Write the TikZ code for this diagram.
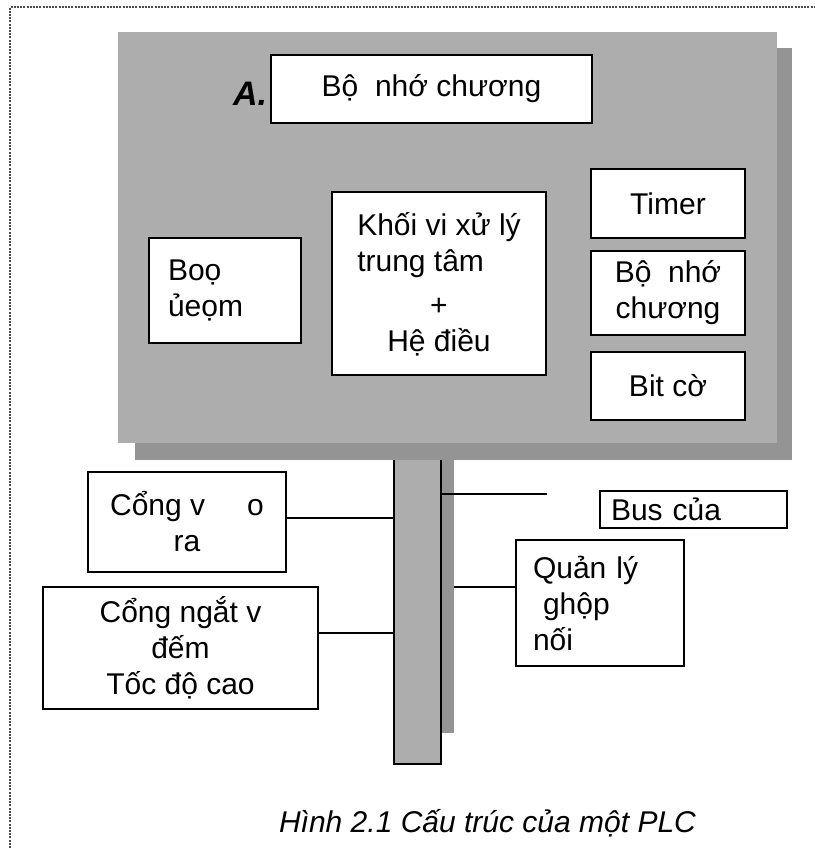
\documentclass[tikz,border=0pt]{standalone}
\usepackage{fontspec}
\setmainfont{Liberation Sans}
\usepackage{tikz}
\usetikzlibrary{positioning, calc}

\begin{document}
\begin{tikzpicture}[x=0.5pt, y=-0.5pt,
    font=\fontsize{15}{18}\selectfont,
    box/.style={draw, fill=white, line width=1pt, inner sep=0pt},
    wire/.style={line width=0.8pt}]
        \useasboundingbox (0,0) rectangle (815,848);
        \draw[black!70, line width=0.6pt, dash pattern=on 1pt off 0.6pt] (10,848) -- (10,7) -- (815,7);

        % bus bar below the panel
        \node[fill=black!42, minimum width=23.5pt, minimum height=144pt, inner sep=0pt] (busshade) at (430.5,589) {};
        \node[fill=black!32, minimum width=23.5pt, minimum height=167pt, inner sep=0pt] (bus) at (417.5,597) {};
        \draw[line width=1pt] (bus.north west) -- (bus.south west) -- (bus.south east) -- (bus.north east);

        % grey panel with its shadow
        \fill[black!42] (135,48) rectangle (792,460);
        \fill[black!32] (118,32) rectangle (777,443);

        \node[box, minimum width=160.5pt, minimum height=34pt] (memtop) at (431.5,89) {Bộ\ \ nhớ chương};
        \node[font=\fontsize{17}{20}\selectfont\bfseries\itshape] (lbla) at (250,94) {A.};

        \node[box, minimum width=76pt, minimum height=52.5pt, inner xsep=9.5pt, text width=57pt, align=left] (buffer) at (225,290.5) {Boọ\\ủeọm};

        \node[box, minimum width=107pt, minimum height=91.5pt, align=center] (cpu) at (439,283.5)
          {\begin{tabular}{@{}l@{}}Khối vi xử lý\\trung tâm\end{tabular}\\[7pt] +\\Hệ điều};

        \foreach \nm/\cy/\h/\txt in {timer/203.5/34.5/Timer, memright/293/42/{Bộ\ \ nhớ\\chương}, bitco/386/34/Bit cờ} {
          \node[box, minimum width=77pt, minimum height=\h pt, align=center] (\nm) at (668,\cy) {\txt};
        }

        \node[box, minimum width=99pt, minimum height=50pt, align=center] (congvao) at (187,522) {Cổng v\hspace{1.4em}o\\ra};
        \node[box, minimum width=137.5pt, minimum height=61pt, align=center] (congngat) at (180.5,648) {Cổng ngắt v\ \\đếm\\Tốc độ cao};
        \node[box, minimum width=93.5pt, minimum height=18.5pt, inner xsep=5.5pt, text width=82.5pt, align=left] (busbox) at (693.5,509.5) {Bus của};
        \node[box, minimum width=84pt, minimum height=63pt, inner xsep=8.5pt, text width=67pt, align=left] (quanly) at (600,603) {Quản lý\\\ ghộp\\nối};

        \coordinate (busend) at (547,494);
        \coordinate (cvend) at ($(congvao.east)+(0,-4)$);
        \coordinate (cnend) at ($(congngat.east)+(0,-15)$);
        \coordinate (qlend) at ($(quanly.west)+(0,-16)$);
        \draw[wire] (cvend) -- (cvend -| bus.west);
        \draw[wire] (cnend) -- (cnend -| bus.west);
        \draw[wire] (bus.east |- busend) -- (busend);
        \draw[wire] (qlend) -- (qlend -| busshade.east);

        \node[font=\fontsize{15}{18}\selectfont\itshape] (caption) at (487.5,823) {Hình 2.1 Cấu trúc của một PLC};
      \end{tikzpicture}
\end{document}
